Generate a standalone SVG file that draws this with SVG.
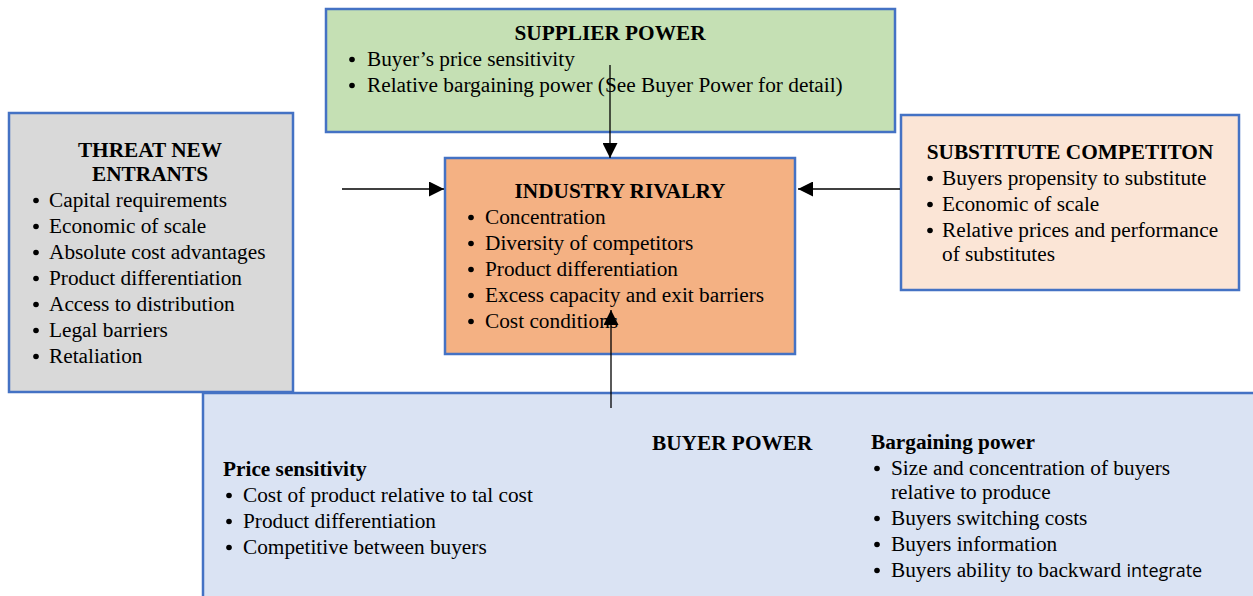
<svg xmlns="http://www.w3.org/2000/svg" width="1253" height="596" viewBox="0 0 1253 596">
<style>
.box{stroke:#4472c4;stroke-width:2.5}
text{font-family:"Liberation Serif","Times New Roman",serif;font-size:21.3px;fill:#000}
.t{font-weight:bold;text-anchor:middle}
.h{font-weight:bold}
.c{stroke:#000;stroke-width:1.3;fill:none}
.b{fill:#000}
</style>
<defs>
<marker id="ah" viewBox="0 0 10 10" refX="10" refY="5" markerWidth="15" markerHeight="15" markerUnits="userSpaceOnUse" orient="auto">
<path d="M0,0 L10,5 L0,10 Z" fill="#000"/>
</marker>
</defs>
<rect width="1253" height="596" fill="#fff"/>

<g id="supplier">
<rect class="box" x="326" y="9" width="569" height="123" fill="#c5e0b4"/>
<text class="t" x="610" y="40">SUPPLIER POWER</text>
<circle class="b" cx="352" cy="59.5" r="2.8"/><text x="367" y="66">Buyer’s price sensitivity</text>
<circle class="b" cx="352" cy="85.5" r="2.8"/><text x="367" y="92">Relative bargaining power (See Buyer Power for detail)</text>
</g>

<g id="threat">
<rect class="box" x="9" y="113" width="284" height="279" fill="#d9d9d9"/>
<text class="t" x="150" y="157">THREAT NEW</text>
<text class="t" x="150" y="181">ENTRANTS</text>
<circle class="b" cx="36" cy="200.5" r="2.8"/><text x="49" y="207">Capital requirements</text>
<circle class="b" cx="36" cy="226.5" r="2.8"/><text x="49" y="233">Economic of scale</text>
<circle class="b" cx="36" cy="252.5" r="2.8"/><text x="49" y="259">Absolute cost advantages</text>
<circle class="b" cx="36" cy="278.5" r="2.8"/><text x="49" y="285">Product differentiation</text>
<circle class="b" cx="36" cy="304.5" r="2.8"/><text x="49" y="311">Access to distribution</text>
<circle class="b" cx="36" cy="330.5" r="2.8"/><text x="49" y="337">Legal barriers</text>
<circle class="b" cx="36" cy="356.5" r="2.8"/><text x="49" y="363">Retaliation</text>
</g>

<g id="industry">
<rect class="box" x="445" y="158" width="350" height="196" fill="#f4b183"/>
<text class="t" x="620" y="198">INDUSTRY RIVALRY</text>
<circle class="b" cx="471" cy="217.5" r="2.8"/><text x="485" y="224">Concentration</text>
<circle class="b" cx="471" cy="243.5" r="2.8"/><text x="485" y="250">Diversity of competitors</text>
<circle class="b" cx="471" cy="269.5" r="2.8"/><text x="485" y="276">Product differentiation</text>
<circle class="b" cx="471" cy="295.5" r="2.8"/><text x="485" y="302">Excess capacity and exit barriers</text>
<circle class="b" cx="471" cy="321.5" r="2.8"/><text x="485" y="328">Cost conditions</text>
</g>

<g id="substitute">
<rect class="box" x="901" y="115" width="338" height="175" fill="#fbe5d6"/>
<text class="t" x="1070" y="159">SUBSTITUTE COMPETITON</text>
<circle class="b" cx="930" cy="178.5" r="2.8"/><text x="942" y="185">Buyers propensity to substitute</text>
<circle class="b" cx="930" cy="204.5" r="2.8"/><text x="942" y="211">Economic of scale</text>
<circle class="b" cx="930" cy="230.5" r="2.8"/><text x="942" y="237">Relative prices and performance</text>
<text x="942" y="261">of substitutes</text>
</g>

<g id="buyer">
<rect class="box" x="203" y="393" width="1060" height="220" fill="#dae3f3"/>
<text class="h" x="652" y="450">BUYER POWER</text>
<text class="h" x="223" y="476">Price sensitivity</text>
<circle class="b" cx="229" cy="495.5" r="2.8"/><text x="243" y="502">Cost of product relative to tal cost</text>
<circle class="b" cx="229" cy="521.5" r="2.8"/><text x="243" y="528">Product differentiation</text>
<circle class="b" cx="229" cy="547.5" r="2.8"/><text x="243" y="554">Competitive between buyers</text>
<text class="h" x="871" y="449">Bargaining power</text>
<circle class="b" cx="877" cy="468.5" r="2.8"/><text x="891" y="475">Size and concentration of buyers</text>
<text x="891" y="499">relative to produce</text>
<circle class="b" cx="877" cy="518.5" r="2.8"/><text x="891" y="525">Buyers switching costs</text>
<circle class="b" cx="877" cy="544.5" r="2.8"/><text x="891" y="551">Buyers information</text>
<circle class="b" cx="877" cy="570.5" r="2.8"/><text x="891" y="577">Buyers ability to backward <tspan style="font-family:'Open Sans','Liberation Sans',sans-serif;font-size:18px">integrate</tspan></text>
</g>

<g id="connectors">
<line class="c" x1="610" y1="65" x2="610" y2="158" marker-end="url(#ah)"/>
<line class="c" x1="342" y1="189" x2="444" y2="189" marker-end="url(#ah)"/>
<line class="c" x1="900" y1="189" x2="798" y2="189" marker-end="url(#ah)"/>
<line class="c" x1="611" y1="408" x2="611" y2="310" marker-end="url(#ah)"/>
</g>
</svg>
